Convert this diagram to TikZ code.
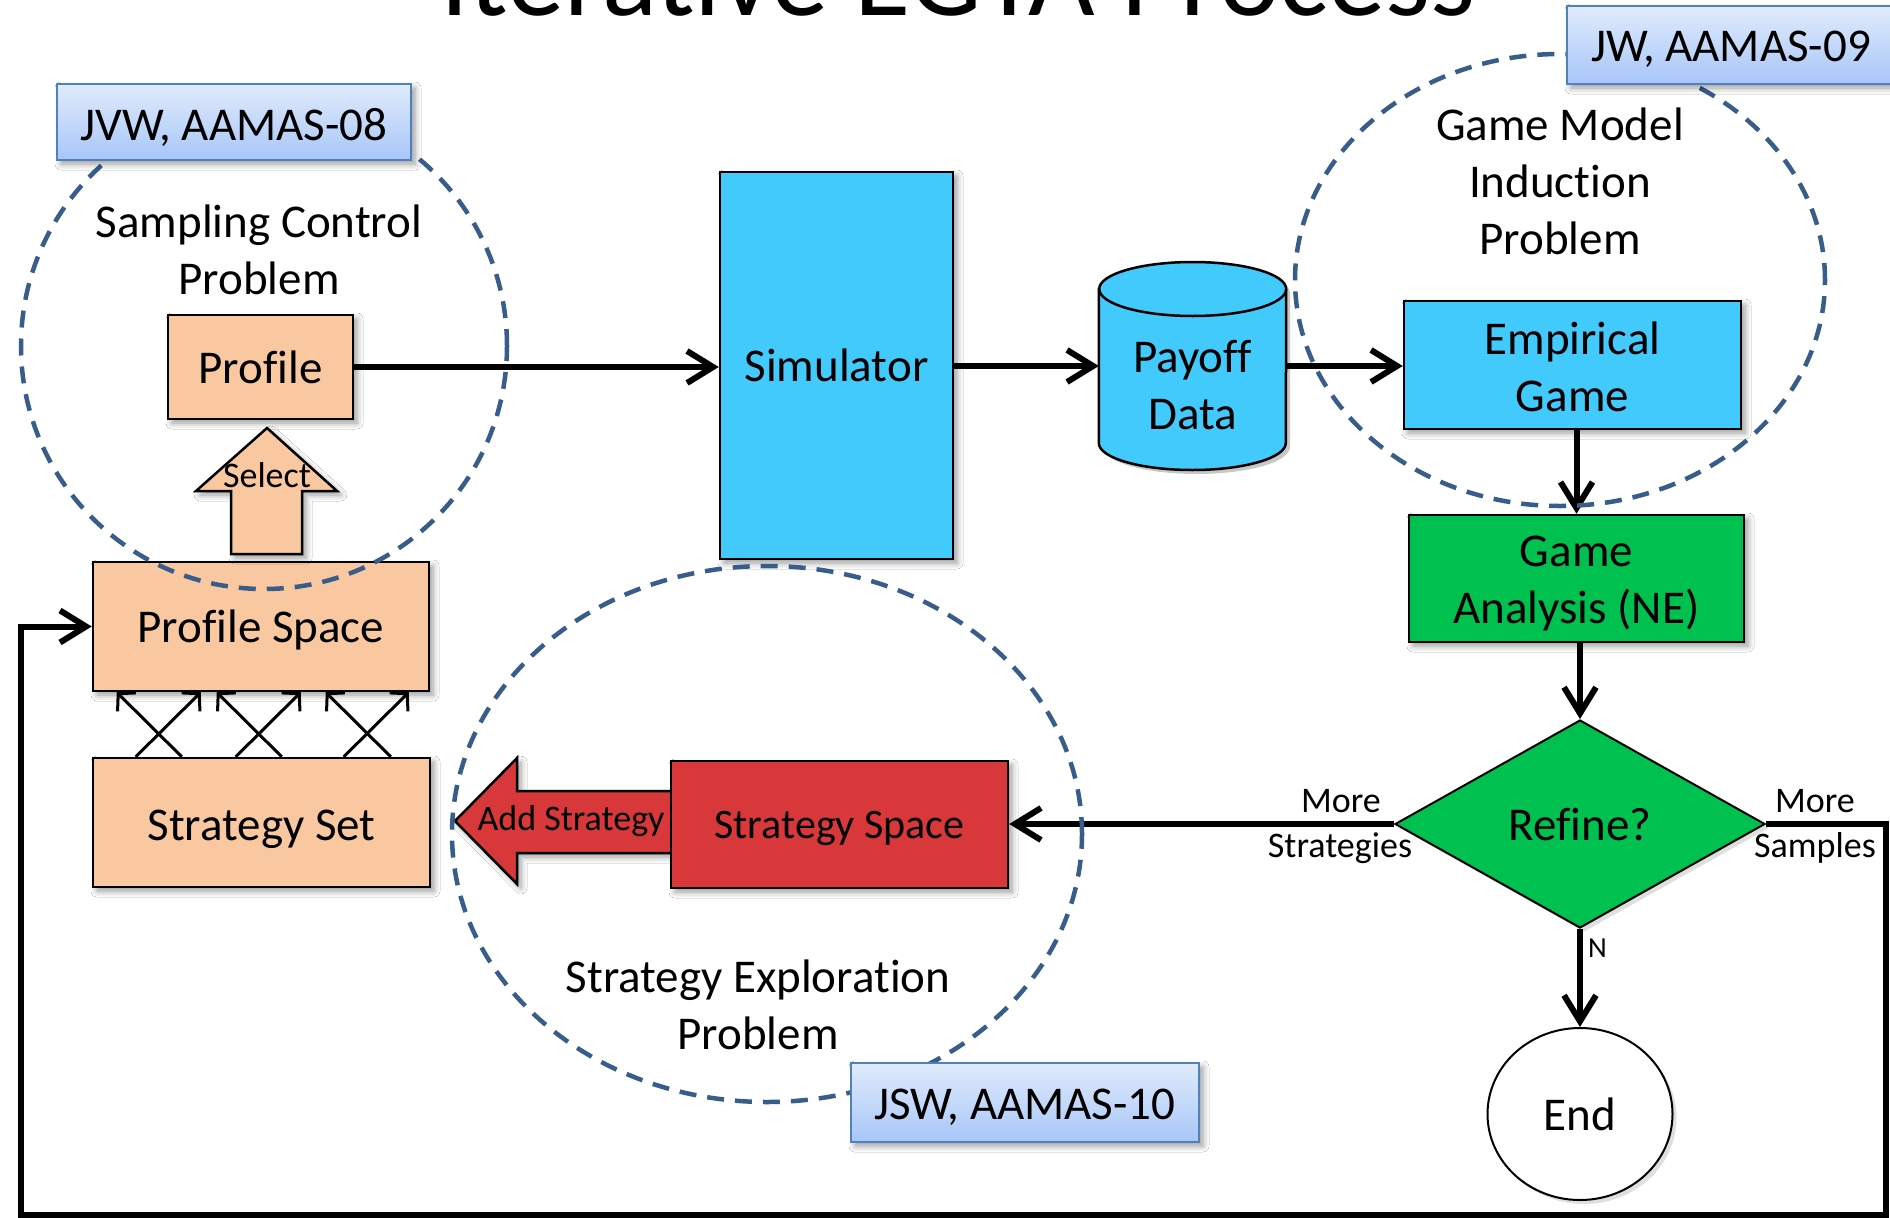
\documentclass[tikz,border=0pt]{standalone}
\usepackage{fontspec}
\setmainfont{Carlito}[Ligatures=NoCommon]
\usetikzlibrary{shapes.geometric,arrows.meta,shadows,shadows.blur,calc}

\definecolor{peach}{RGB}{250,200,160}
\definecolor{skyfill}{RGB}{66,202,252}
\definecolor{greenfill}{RGB}{0,192,80}
\definecolor{redfill}{RGB}{216,56,58}
\definecolor{dashblue}{RGB}{56,93,138}
\definecolor{reftop}{RGB}{224,235,252}
\definecolor{refbot}{RGB}{168,198,248}
\definecolor{refedge}{RGB}{79,129,189}

\begin{document}
\begin{tikzpicture}[x=1pt,y=1pt,
  softshadow/.style={blur shadow={shadow xshift=4pt,shadow yshift=-4pt,shadow blur radius=6pt,shadow blur steps=6,shadow opacity=40}},
  plainshadow/.style={drop shadow={shadow xshift=4pt,shadow yshift=-4pt,opacity=0.25}},
  mainfont/.style={font=\fontsize{47}{57}\selectfont},
  smallfont/.style={font=\fontsize{36}{40}\selectfont},
  box/.style={draw=black,line width=2.5pt,inner sep=0pt,align=center,mainfont,softshadow},
  size/.style 2 args={minimum width=#1pt,minimum height=#2pt},
  refbox/.style={draw=refedge,line width=2pt,top color=reftop,bottom color=refbot,inner sep=0pt,mainfont,softshadow},
  flow/.style={line width=6pt,-{Straight Barb[length=26pt,width=32pt]}},
  crossarrow/.style={line width=3pt,-{Straight Barb[length=12pt,width=26pt]}},
  ring/.style={draw=dashblue,line width=4.5pt,dash pattern=on 17pt off 11pt},
  blockarrow/.style={draw=black,line width=2.5pt,line join=miter},
]
\clip (0,0) rectangle (1890,-1218);
\fill[white] (0,0) rectangle (1890,-1218);

% title
\node[font=\fontsize{115}{120}\selectfont,anchor=base,inner sep=0pt] (title) at (958,-15) {Iterative EGTA Process};

% process boxes
\node[box,size={185}{104},fill=peach] (profile) at (260.5,-367) {Profile};
\node[box,size={336}{129},fill=peach] (pspace) at (261,-626.5) {};
\node[mainfont] (pspacetext) at (261,-630) {Profile Space};
\node[box,size={337}{129},fill=peach] (sset) at (261.5,-822.5) {};
\node[mainfont] (ssettext) at (261.5,-829) {Strategy Set};
\node[box,size={233}{387},fill=skyfill] (sim) at (836.5,-365.5) {Simulator};
\node[box,size={337}{128},fill=skyfill] (emp) at (1572.5,-365) {};
\node[mainfont,align=center] (emptext) at (1572.5,-367) {Empirical\\Game};
\node[box,size={335}{127},fill=greenfill] (ga) at (1576.5,-578.5) {};
\node[mainfont,align=center] (gatext) at (1576.5,-584) {Game\\Analysis (NE)};

% payoff data store
\node[inner sep=0pt,size={187}{208}] (payoff) at (1192.5,-366) {};
\fill[black,opacity=0.22] (1103,-293) -- (1103,-447) arc[start angle=180,end angle=360,x radius=93.5pt,y radius=27pt] -- (1290,-293) arc[start angle=0,end angle=180,x radius=93.5pt,y radius=27pt] -- cycle;
\draw[line width=2.5pt,fill=skyfill] (payoff.west |- 0,-289) -- (payoff.west |- 0,-443) arc[start angle=180,end angle=360,x radius=93.5pt,y radius=27pt] -- (payoff.east |- 0,-289) arc[start angle=0,end angle=180,x radius=93.5pt,y radius=27pt] -- cycle;
\draw[line width=2.5pt] (payoff.east |- 0,-289) arc[start angle=0,end angle=-180,x radius=93.5pt,y radius=27pt];
\node[mainfont,align=center] (payofftext) at (1192.5,-385) {Payoff\\Data};

% decision and end
\node[diamond,draw=black,line width=2pt,fill=greenfill,size={370}{208},inner sep=0pt,mainfont,plainshadow] (refine) at (1580,-824) {Refine?};
\node[ellipse,draw=black,line width=2pt,fill=white,size={185}{172},inner sep=0pt,mainfont,plainshadow] (end) at (1580,-1114) {End};

% add strategy block arrow and strategy space
\draw[blockarrow,fill=redfill,softshadow] (455,-821) -- (517,-758) -- (517,-791) -- (680,-791) -- (680,-853) -- (517,-853) -- (517,-884) -- cycle;
\node[smallfont,anchor=base,inner sep=0pt] (addstrat) at (571,-830) {Add Strategy};
\node[box,size={337}{127},fill=redfill] (sspace) at (839.5,-824.5) {};
\node[font=\fontsize{42}{50}\selectfont] (sspacetext) at (839.5,-828) {Strategy Space};

% select block arrow
\draw[blockarrow,fill=peach,softshadow] (267,-428) -- (337,-491) -- (302,-491) -- (302,-554) -- (231,-554) -- (231,-491) -- (196,-491) -- cycle;
\node[smallfont,anchor=base,inner sep=0pt] (select) at (267,-487) {Select};

% main flow
\draw[flow] (profile.east) -- (sim.west |- profile.east);
\draw[flow] (sim.east |- payoff.west) -- (payoff.west);
\draw[flow] (payoff.east) -- (emp.west |- payoff.east);
\draw[flow] (emp.south -| ga.north) -- (ga.north);
\draw[flow] (ga.south -| refine.north) -- (refine.north);
\draw[flow] (refine.south) -- (end.north);
\draw[flow] (refine.west) -- (sspace.east |- refine.west);

% feedback loop for more samples
\coordinate (loopR) at (1886,-1215);
\coordinate (loopL) at (21,-1215);
\draw[flow,line join=miter] (refine.east) -- (refine.east -| loopR) -- (loopR) -- (loopL) -- (loopL |- pspace.west) -- (pspace.west);

% strategy set to profile space
\draw[crossarrow] ([xshift=44pt]sset.north west) -- ([xshift=109pt]pspace.south west);
\draw[crossarrow] ([xshift=90pt]sset.north west) -- ([xshift=25pt]pspace.south west);
\draw[crossarrow] ([xshift=144pt]sset.north west) -- ([xshift=209pt]pspace.south west);
\draw[crossarrow] ([xshift=190pt]sset.north west) -- ([xshift=125pt]pspace.south west);
\draw[crossarrow] ([xshift=252pt]sset.north west) -- ([xshift=317pt]pspace.south west);
\draw[crossarrow] ([xshift=299pt]sset.north west) -- ([xshift=234pt]pspace.south west);

% branch labels
\node[smallfont,anchor=base,inner sep=0pt] (lmore1) at (1341,-812) {More};
\node[smallfont,anchor=base,inner sep=0pt] (lstrat) at (1340,-857) {Strategies};
\node[smallfont,anchor=base,inner sep=0pt] (lmore2) at (1815,-812) {More};
\node[smallfont,anchor=base,inner sep=0pt] (lsamp) at (1815,-857) {Samples};
\node[font=\fontsize{29}{32}\selectfont,anchor=base west,inner sep=0pt] (lno) at (1588,-957) {N};

% problem regions
\draw[ring] (264,-346) ellipse [x radius=243pt,y radius=243pt];
\draw[ring] (1560,-280) ellipse [x radius=265pt,y radius=226pt];
\draw[ring] (767,-834) ellipse [x radius=315pt,y radius=268pt];
\node[mainfont,align=center] (psampling) at (259,-250) {Sampling Control\\Problem};
\node[mainfont,align=center] (pinduction) at (1560,-181) {Game Model\\Induction\\Problem};
\node[mainfont,align=center] (pexplore) at (758,-1005) {Strategy Exploration\\Problem};

% references
\node[refbox,size={354}{76}] (ref08) at (234,-122) {};
\node[mainfont] (ref08text) at (234,-127) {JVW, AAMAS-08};
\node[refbox,size={328}{78}] (ref09) at (1731,-45) {};
\node[mainfont] (ref09text) at (1731,-49) {JW, AAMAS-09};
\node[refbox,size={348}{79}] (ref10) at (1025,-1102.5) {};
\node[mainfont] (ref10text) at (1025,-1107) {JSW, AAMAS-10};
\end{tikzpicture}
\end{document}
